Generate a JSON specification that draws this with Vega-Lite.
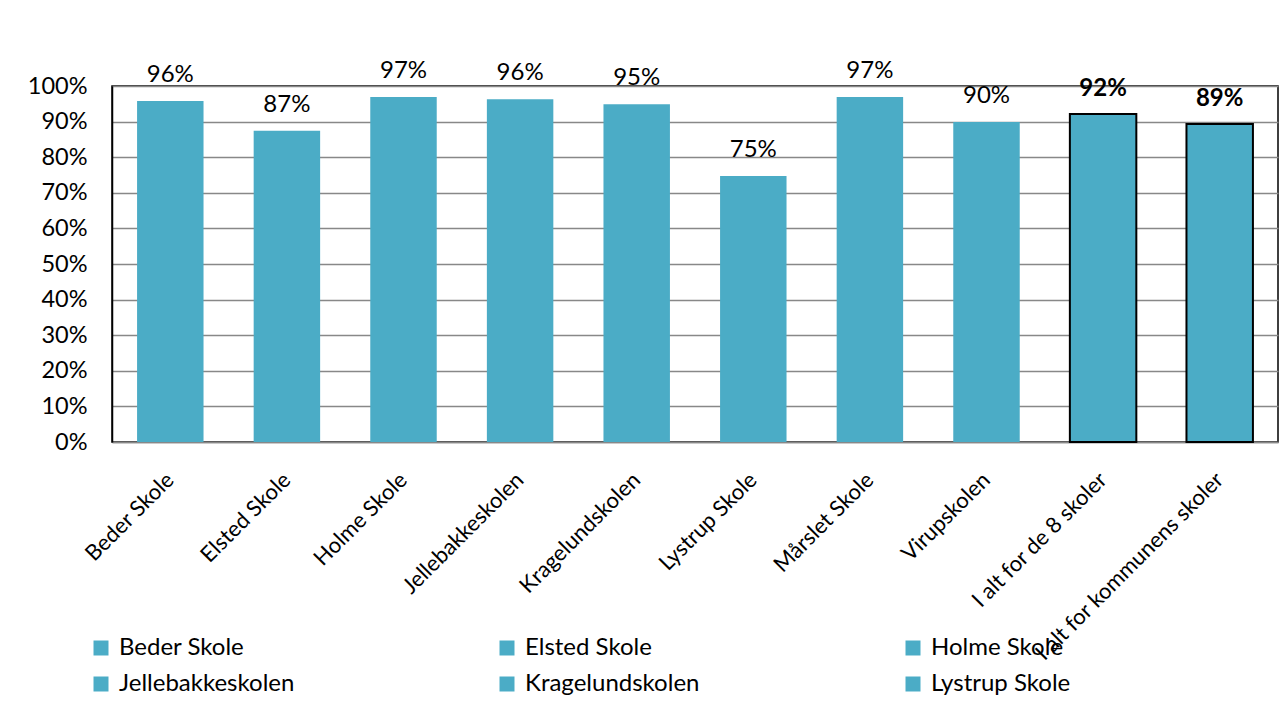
{
  "$schema": "https://vega.github.io/schema/vega-lite/v6.json",
  "autosize": "none",
  "width": 1166,
  "height": 356,
  "padding": {"left": 112, "top": 86, "right": 6, "bottom": 272},
  "background": "white",
  "config": {
    "font": "Lato",
    "view": {"stroke": "black", "strokeWidth": 1.5}
  },
  "data": {
    "values": [
      {"school": "Beder Skole", "value": 0.958, "total": false},
      {"school": "Elsted Skole", "value": 0.874, "total": false},
      {"school": "Holme Skole", "value": 0.969, "total": false},
      {"school": "Jellebakkeskolen", "value": 0.963, "total": false},
      {"school": "Kragelundskolen", "value": 0.949, "total": false},
      {"school": "Lystrup Skole", "value": 0.747, "total": false},
      {"school": "Mårslet Skole", "value": 0.969, "total": false},
      {"school": "Virupskolen", "value": 0.899, "total": false},
      {"school": "I alt for de 8 skoler", "value": 0.921, "total": true},
      {"school": "I alt for kommunens skoler", "value": 0.893, "total": true}
    ]
  },
  "encoding": {
    "x": {
      "field": "school",
      "type": "nominal",
      "sort": null,
      "scale": {"paddingInner": 0.43, "paddingOuter": 0.215},
      "axis": {
        "title": null,
        "labelAngle": -45,
        "labelFontSize": 22,
        "labelColor": "black",
        "labelPadding": 34,
        "labelBaseline": "middle",
        "ticks": false,
        "domainColor": "#888888",
        "domainWidth": 1.5,
        "labelLimit": 400,
        "labelOverlap": false
      }
    },
    "y": {
      "field": "value",
      "type": "quantitative",
      "scale": {"domain": [0, 1], "nice": false},
      "axis": {
        "title": null,
        "format": ".0%",
        "values": [0, 0.1, 0.2, 0.3, 0.4, 0.5, 0.6, 0.7, 0.8, 0.9, 1],
        "labelFontSize": 23.5,
        "labelColor": "black",
        "labelPadding": 25,
        "ticks": false,
        "domainColor": "black",
        "domainWidth": 1.5,
        "gridColor": "#888888",
        "gridWidth": 1.5
      }
    }
  },
  "layer": [
    {
      "mark": {"type": "bar", "fill": "#4BACC6"},
      "encoding": {
        "color": {
          "field": "school",
          "type": "nominal",
          "sort": null,
          "scale": {
            "domain": ["Beder Skole", "Elsted Skole", "Holme Skole", "Jellebakkeskolen", "Kragelundskolen", "Lystrup Skole", "Mårslet Skole", "Virupskolen", "I alt for de 8 skoler", "I alt for kommunens skoler"],
            "range": ["#4BACC6", "#4BACC6", "#4BACC6", "#4BACC6", "#4BACC6", "#4BACC6", "#4BACC6", "#4BACC6", "#4BACC6", "#4BACC6"]
          },
          "legend": {
            "title": null,
            "values": ["Beder Skole", "Elsted Skole", "Holme Skole", "Jellebakkeskolen", "Kragelundskolen", "Lystrup Skole"],
            "orient": "none",
            "legendX": -23,
            "legendY": 550,
            "direction": "horizontal",
            "columns": 3,
            "gridAlign": "all",
            "columnPadding": 200,
            "rowPadding": 12,
            "symbolType": "square",
            "symbolSize": 225,
            "symbolStrokeWidth": 0,
            "labelFontSize": 24,
            "labelColor": "black",
            "labelOffset": 6,
            "labelLimit": 400
          }
        },
        "stroke": {"condition": {"test": "datum.total", "value": "black"}, "value": null},
        "strokeWidth": {"condition": {"test": "datum.total", "value": 2}, "value": 0}
      }
    },
    {
      "transform": [{"filter": "!datum.total"}],
      "mark": {"type": "text", "baseline": "alphabetic", "dy": -19, "fontSize": 24, "color": "black"},
      "encoding": {"text": {"field": "value", "format": ".0%"}}
    },
    {
      "transform": [{"filter": "datum.total"}],
      "mark": {"type": "text", "baseline": "alphabetic", "dy": -18, "fontSize": 24, "fontWeight": "bold", "color": "black"},
      "encoding": {"text": {"field": "value", "format": ".0%"}}
    }
  ]
}
